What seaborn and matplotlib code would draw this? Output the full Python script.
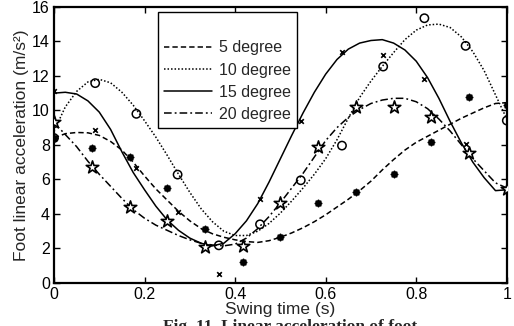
import numpy as np
import pandas as pd
import matplotlib
matplotlib.use("Agg")
import matplotlib.pyplot as plt
import seaborn as sns

# Fitted curves, sampled along the swing phase
t_curve = [0.000, 0.025, 0.050, 0.075, 0.100, 0.125, 0.150, 0.175, 0.200, 0.225,
           0.250, 0.275, 0.300, 0.325, 0.350, 0.375, 0.400, 0.425, 0.450, 0.475,
           0.500, 0.525, 0.550, 0.575, 0.600, 0.625, 0.650, 0.675, 0.700, 0.725,
           0.750, 0.775, 0.800, 0.825, 0.850, 0.875, 0.900, 0.925, 0.950, 0.975, 1.000]
fit_5 = [8.40, 8.65, 8.72, 8.70, 8.55, 8.20, 7.70, 7.00, 6.20, 5.45,
         4.80, 4.15, 3.60, 3.15, 2.85, 2.65, 2.50, 2.40, 2.35, 2.45,
         2.65, 2.90, 3.20, 3.55, 3.95, 4.40, 4.85, 5.35, 5.90, 6.55,
         7.15, 7.70, 8.15, 8.50, 8.85, 9.20, 9.55, 9.85, 10.15, 10.40, 10.45]
fit_10 = [8.80, 10.20, 11.10, 11.65, 11.80, 11.60, 11.05, 10.30, 9.40, 8.45,
          7.40, 6.30, 5.25, 4.30, 3.55, 3.00, 2.75, 2.75, 3.00, 3.45,
          4.05, 4.75, 5.50, 6.30, 7.20, 8.30, 9.55, 10.75, 11.70, 12.55,
          13.35, 14.10, 14.65, 14.95, 15.00, 14.80, 14.25, 13.40, 12.30, 10.90, 9.50]
fit_15 = [11.00, 11.05, 10.95, 10.55, 9.90, 8.90, 7.60, 6.40, 5.40, 4.45,
          3.65, 3.05, 2.60, 2.30, 2.15, 2.30, 2.85, 3.60, 4.60, 5.85,
          7.20, 8.55, 9.85, 11.05, 12.10, 12.95, 13.55, 13.90, 14.05, 14.10,
          13.90, 13.50, 12.85, 11.90, 10.70, 9.35, 8.10, 7.00, 6.10, 5.35, 5.40]
fit_20 = [9.30, 8.60, 7.90, 7.05, 6.30, 5.60, 4.90, 4.25, 3.75, 3.35,
          3.05, 2.75, 2.50, 2.30, 2.20, 2.15, 2.25, 2.60, 3.15, 3.85,
          4.65, 5.50, 6.35, 7.30, 8.25, 9.00, 9.60, 10.05, 10.40, 10.60,
          10.70, 10.70, 10.50, 10.10, 9.50, 8.80, 8.00, 7.20, 6.50, 5.80, 5.50]

# Measured samples
t_a = [0.000, 0.083, 0.167, 0.250, 0.333, 0.417, 0.500, 0.583, 0.667, 0.750, 0.833, 0.917, 1.000]
t_b = [0.000, 0.091, 0.182, 0.273, 0.364, 0.455, 0.545, 0.636, 0.727, 0.818, 0.909, 1.000]
meas_5 = [8.40, 7.80, 7.29, 5.53, 3.10, 1.24, 2.67, 4.66, 5.26, 6.34, 8.15, 10.80, 10.30]
meas_20 = [9.35, 6.74, 4.39, 3.59, 2.10, 2.14, 4.66, 7.86, 10.18, 10.18, 9.64, 7.56, 5.43]
meas_10 = [8.40, 11.58, 9.80, 6.28, 2.18, 3.40, 5.95, 7.96, 12.54, 15.34, 13.74, 9.41]
meas_15 = [11.10, 8.87, 6.65, 4.13, 0.50, 4.87, 9.40, 13.40, 13.20, 11.83, 8.06, 5.40]

labels = ["5 degree", "10 degree", "15 degree", "20 degree"]
x_ticks = [0, 0.2, 0.4, 0.6, 0.8, 1]
x_tick_labels = ["0", "0.2", "0.4", "0.6", "0.8", "1"]
y_ticks = [0, 2, 4, 6, 8, 10, 12, 14, 16]

sns.set_style("ticks")
plt.rcParams["font.family"] = ["Liberation Sans", "DejaVu Sans"]

fig = plt.figure(figsize=(5.14, 3.26), dpi=100)
ax = fig.add_axes([0.105, 0.132, 0.881, 0.847])

line_styles = [
    dict(linestyle=(0, (3.5, 2.0)), linewidth=1.1),
    dict(linestyle=(0, (1.0, 1.3)), linewidth=1.1),
    dict(linestyle="-", linewidth=1.1),
    dict(linestyle=(0, (5.0, 2.0, 1.2, 2.0)), linewidth=1.1),
]
fits = [fit_5, fit_10, fit_15, fit_20]
for fit, lab, st in zip(fits, labels, line_styles):
    sns.lineplot(x=t_curve, y=fit, ax=ax, color="black", label=lab, sort=False, **st)

# Measured samples as markers
sns.scatterplot(x=t_a, y=meas_5, ax=ax, marker=(8, 1, 0), s=18, color="black",
                edgecolor="black", linewidth=1.6, legend=False, zorder=3)
sns.scatterplot(x=t_b, y=meas_10, ax=ax, marker="o", s=36, facecolor="none",
                edgecolor="black", linewidth=1.1, legend=False, zorder=3)
sns.scatterplot(x=t_b, y=meas_15, ax=ax, marker="x", s=11, color="black",
                linewidth=1.2, legend=False, zorder=3)
sns.scatterplot(x=t_a, y=meas_20, ax=ax, marker="*", s=90, facecolor="white",
                edgecolor="black", linewidth=1.2, legend=False, zorder=3)

ax.set_xlim(0, 1)
ax.set_ylim(0, 16)
ax.set_xticks(x_ticks)
ax.set_xticklabels(x_tick_labels)
ax.set_yticks(y_ticks)
ax.tick_params(direction="in", length=4, width=1.0, labelsize=11.5,
               top=True, right=True, colors="black", pad=3)
for sp in ax.spines.values():
    sp.set_visible(True)
    sp.set_linewidth(1.6)
    sp.set_color("black")

ax.set_xlabel("Swing time (s)", fontsize=12.5, labelpad=0)
ax.set_ylabel("Foot linear acceleration (m/s²)", fontsize=12.5, labelpad=2)

leg = ax.legend(loc="upper left", bbox_to_anchor=(0.2296, 0.982), borderaxespad=0,
                fontsize=11.5, title=" ", title_fontsize=12.5, handlelength=3.0,
                handletextpad=0.4, labelspacing=0.45, borderpad=0.4,
                fancybox=False, framealpha=1, edgecolor="black")
leg.get_frame().set_linewidth(1.0)

fig.text(0.565, 0.022, "Fig. 11. Linear acceleration of foot", ha="center", va="top",
         fontsize=12.5, fontweight="bold", family=["Liberation Serif", "DejaVu Serif"])

fig.savefig("out.png", dpi=100)
